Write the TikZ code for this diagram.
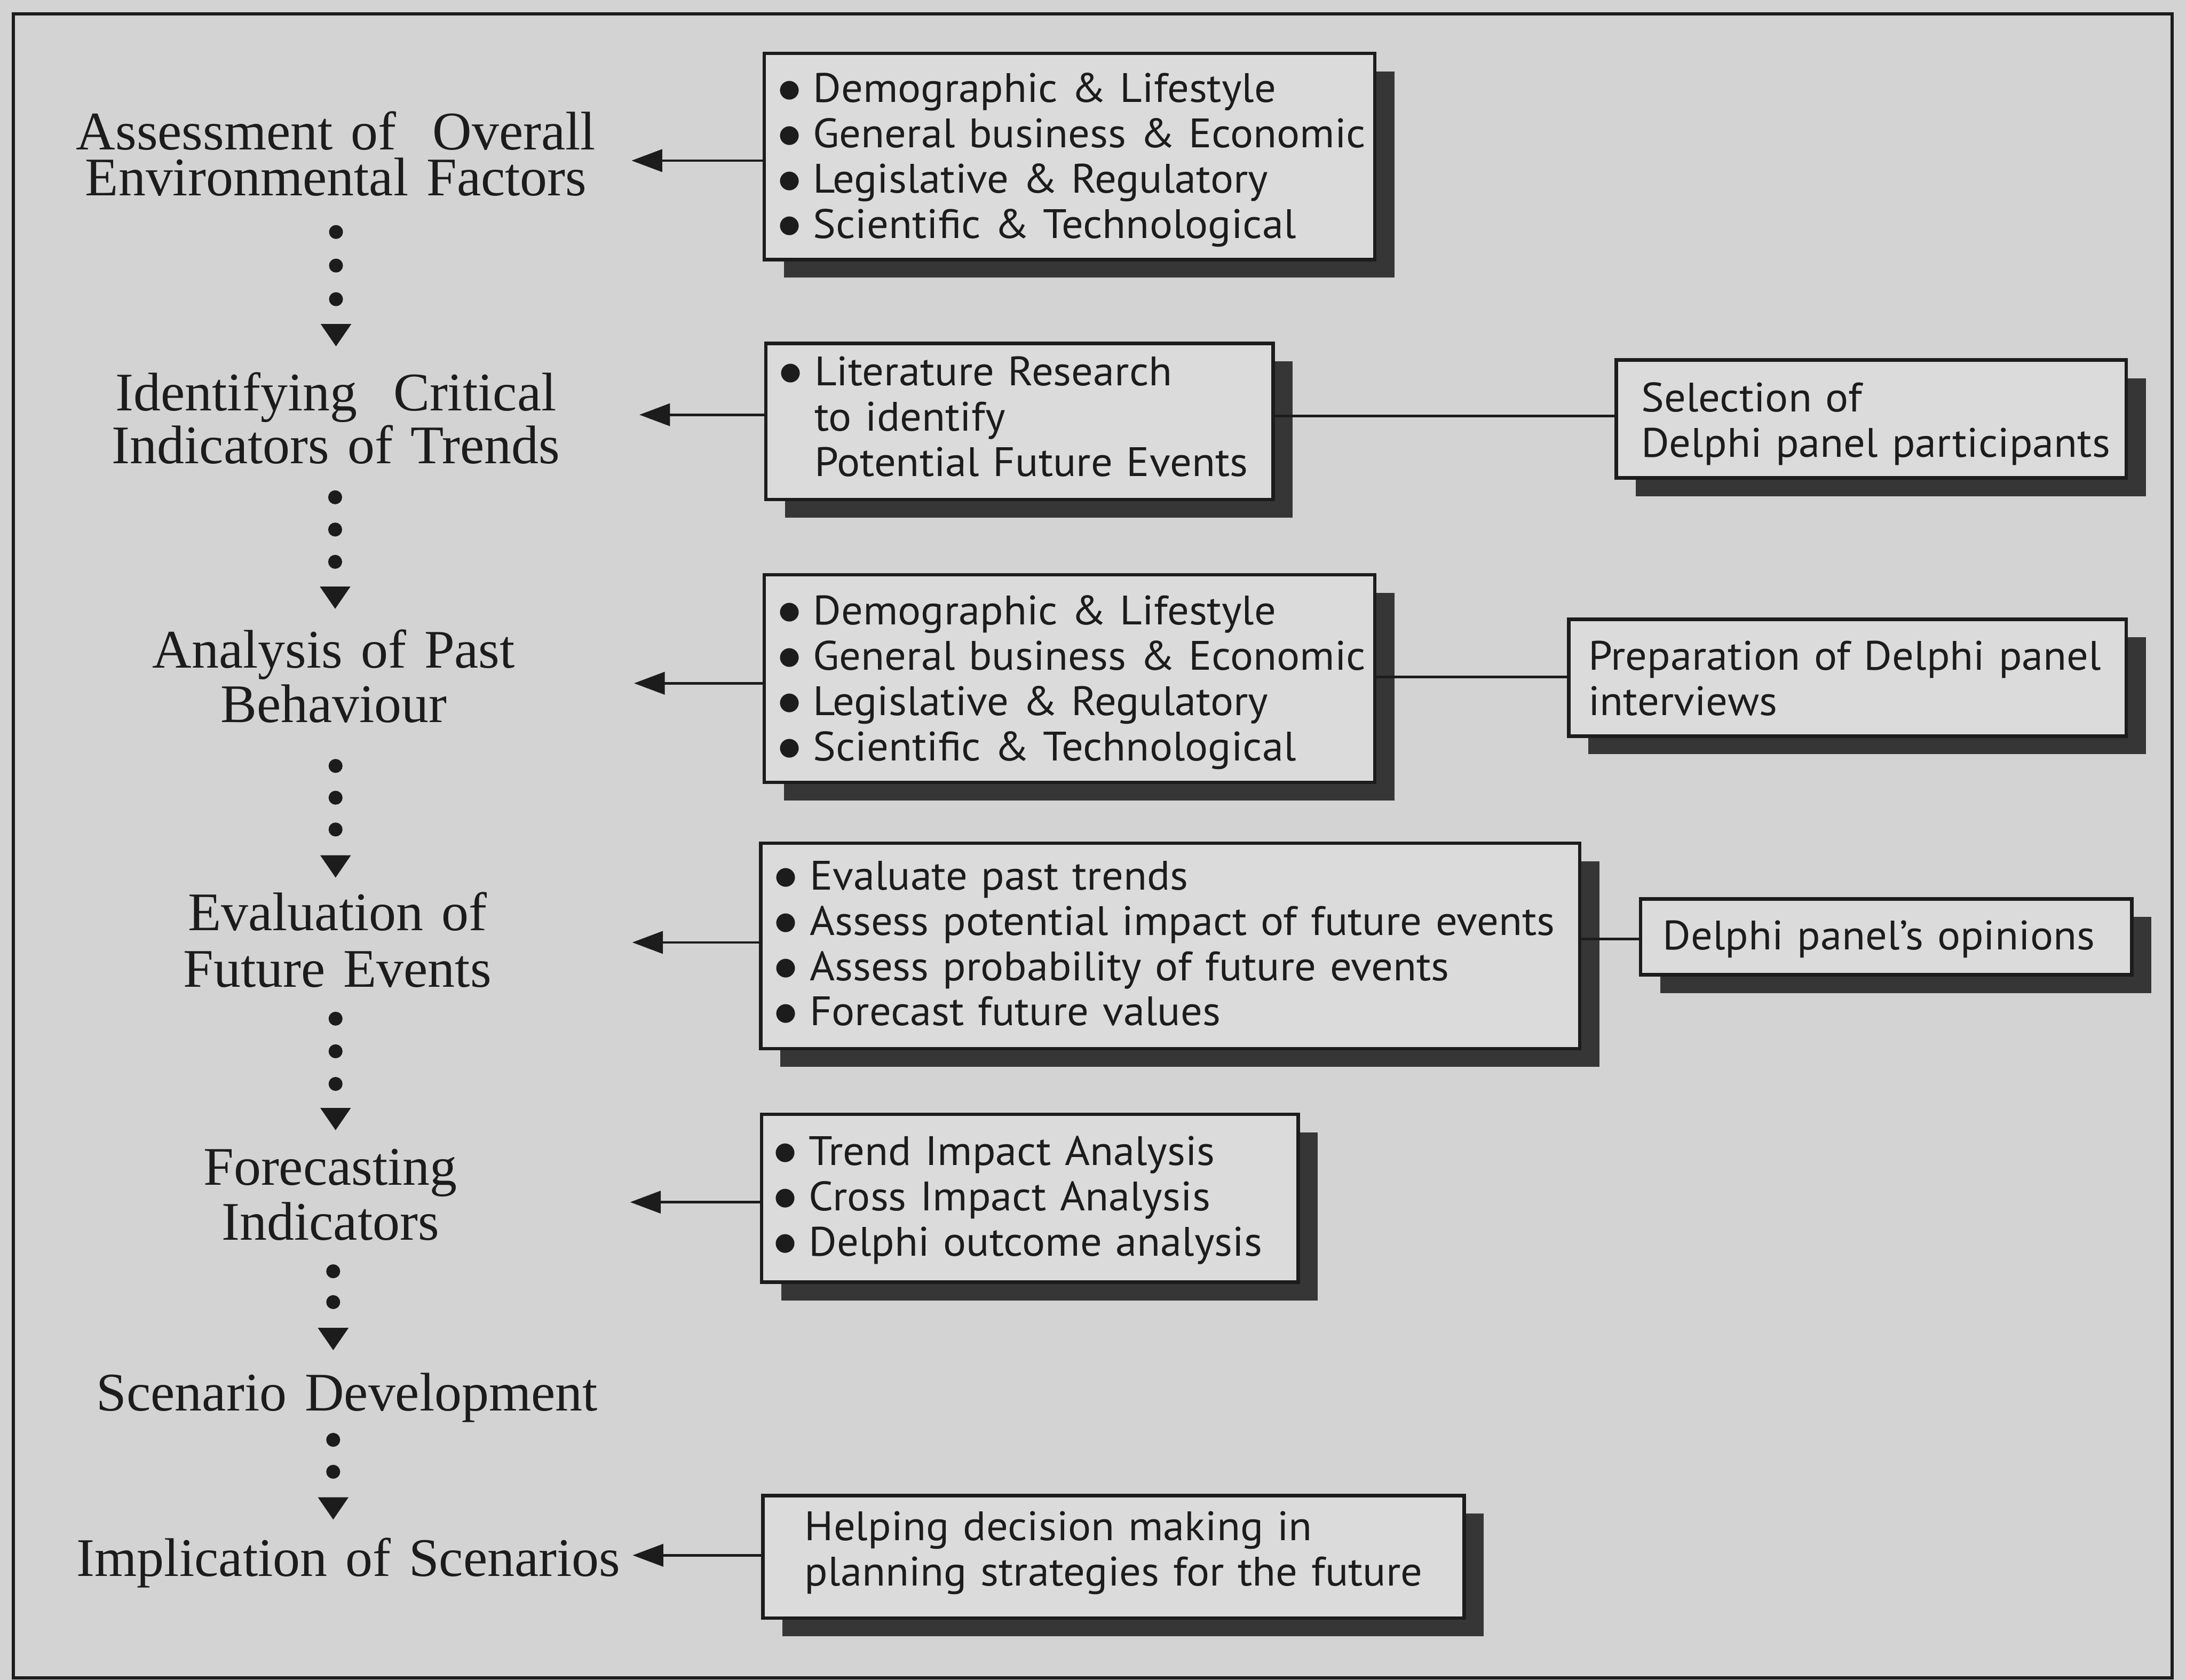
\documentclass[tikz,border=0pt]{standalone}
\usepackage{fontspec}
\setmainfont{Liberation Serif}
\setsansfont{PT Sans}[FakeStretch=1.045]
\newfontfamily\bulfont{DejaVu Sans}
\usetikzlibrary{arrows.meta,shadows}
\definecolor{bgc}{HTML}{D3D3D3}
\definecolor{boxc}{HTML}{DBDBDB}
\definecolor{shc}{HTML}{363636}
\definecolor{ink}{HTML}{1C1C1C}
\newcommand\oneline[1]{\mbox{#1}}
\newcommand\upstrut[1]{\rule{0pt}{#1}}
\newcommand\downstrut{\rule[-0.3cm]{0pt}{0.3cm}}
\newcommand\bul{\makebox[0.32cm][c]{\raisebox{2.3pt}{\bulfont\fontsize{10}{0}\selectfont ●}}\hspace{0.18cm}}
\newcommand\bulgap{\hspace{0.5cm}}
\begin{document}
\begin{tikzpicture}[x=0.02cm,y=-0.02cm,
  stage/.style={font=\fontsize{22.2}{#1}\selectfont,
    align=center, text width=8cm, inner sep=0pt, anchor=base, text=ink},
  stage/.default=0.66cm,
  panel/.style={draw=ink, line width=0.05cm, fill=boxc, anchor=north west,
    inner sep=0pt, align=left, text=ink,
    font=\sffamily\fontsize{16.8}{0.65cm}\selectfont,
    general shadow={shadow xshift=0.28cm, shadow yshift=-0.26cm, fill=shc}},
  feed/.style={draw=ink, line width=0.036cm, -{Triangle[length=0.44cm,width=0.32cm]}},
  link/.style={draw=ink, line width=0.036cm},
  flow/.style={draw=ink, line width=0.2cm, line cap=round, dash pattern=on 0pt off #1,
    -{Triangle[length=0.32cm,width=0.44cm,line width=0pt]}},
]
\useasboundingbox (0,0) rectangle (1568,1205);
\fill[bgc] (0,0) rectangle (1568,1205);
\draw[draw=ink, line width=0.044cm] (9.5,10) rectangle (1558,1203.5);

% stages
\node[stage] (s1) at (241,107.3) {Assessment of\ \ Overall\\Environmental Factors};
\node[stage=0.762cm] (s2) at (241,294.4) {Identifying\ \ Critical\\Indicators of Trends};
\node[stage=0.788cm] (s3) at (239.4,478.9) {Analysis of Past\\Behaviour};
\node[stage=0.806cm] (s4) at (242,667.6) {Evaluation of\\Future Events};
\node[stage=0.786cm] (s5) at (237,850.2) {Forecasting\\Indicators};
\node[stage] (s6) at (249,1012) {Scenario Development};
\node[stage] (s7) at (250,1130.7) {Implication of Scenarios};

% panels
\node[panel, minimum width=8.76cm, minimum height=2.96cm, text width=8.36cm] (b1) at (547,37)
  {\oneline{\upstrut{0.698cm}\bul Demographic \& Lifestyle}\\\oneline{\bul General business \& Economic}\\\oneline{\bul Legislative \& Regulatory}\\\oneline{\bul Scientific \& Technological\downstrut}};
\node[panel, minimum width=7.28cm, minimum height=2.24cm, text width=6.88cm] (b2) at (548,245)
  {\oneline{\upstrut{0.572cm}\bul Literature Research}\\\oneline{\bulgap to identify}\\\oneline{\bulgap Potential Future Events\downstrut}};
\node[panel, minimum width=7.32cm, minimum height=1.64cm, text width=6.60cm] (b2b) at (1158,257)
  {\oneline{\upstrut{0.742cm}Selection of}\\\oneline{Delphi panel participants\downstrut}};
\node[panel, minimum width=8.76cm, minimum height=2.98cm, text width=8.36cm] (b3) at (547,411)
  {\oneline{\upstrut{0.702cm}\bul Demographic \& Lifestyle}\\\oneline{\bul General business \& Economic}\\\oneline{\bul Legislative \& Regulatory}\\\oneline{\bul Scientific \& Technological\downstrut}};
\node[panel, minimum width=8.00cm, minimum height=1.64cm, text width=7.44cm] (b3b) at (1124,443)
  {\oneline{\upstrut{0.726cm}Preparation of Delphi panel}\\\oneline{interviews\downstrut}};
\node[panel, minimum width=11.75cm, minimum height=2.95cm, text width=11.35cm] (b4) at (544.5,603.5)
  {\oneline{\upstrut{0.64cm}\bul Evaluate past trends}\\\oneline{\bul Assess potential impact of future events}\\\oneline{\bul Assess probability of future events}\\\oneline{\bul Forecast future values\downstrut}};
\node[panel, minimum width=7.05cm, minimum height=1.09cm, text width=6.41cm] (b4b) at (1175.5,643.5)
  {\oneline{\upstrut{0.662cm}Delphi panel's opinions\downstrut}};
\node[panel, minimum width=7.70cm, minimum height=2.41cm, text width=7.34cm] (b5) at (545,798)
  {\oneline{\upstrut{0.652cm}\bul Trend Impact Analysis}\\\oneline{\bul Cross Impact Analysis}\\\oneline{\bul Delphi outcome analysis\downstrut}};
\node[panel, minimum width=10.06cm, minimum height=1.76cm, text width=8.86cm] (b7) at (546,1071.5)
  {\oneline{\upstrut{0.48cm}Helping decision making in}\\\oneline{planning strategies for the future\downstrut}};

% arrow tips and link heights
\coordinate (a1) at (453,115.2);
\coordinate (a2) at (458.6,297.5);
\coordinate (a3) at (454.8,490.1);
\coordinate (a4) at (453.5,676);
\coordinate (a5) at (452,862.3);
\coordinate (a7) at (453.8,1115.6);
\coordinate (l2) at (1000,298.5);
\coordinate (l3) at (1000,485.7);
\coordinate (l4) at (1000,673.6);

\draw[feed] (b1.west |- a1) -- (a1);
\draw[feed] (b2.west |- a2) -- (a2);
\draw[feed] (b3.west |- a3) -- (a3);
\draw[feed] (b4.west |- a4) -- (a4);
\draw[feed] (b5.west |- a5) -- (a5);
\draw[feed] (b7.west |- a7) -- (a7);

\draw[link] (b2.east |- l2) -- (b2b.west |- l2);
\draw[link] (b3.east |- l3) -- (b3b.west |- l3);
\draw[link] (b4.east |- l4) -- (b4b.west |- l4);

% dotted flow between stages
\coordinate (g1a) at (241,166.4);   \coordinate (g1b) at (241,248.4);
\coordinate (g2a) at (240.4,356.7); \coordinate (g2b) at (240.4,436.7);
\coordinate (g3a) at (240.7,549.4); \coordinate (g3b) at (240.7,629.5);
\coordinate (g4a) at (240.7,730.7); \coordinate (g4b) at (240.7,810.7);
\coordinate (g5a) at (239,911.9);   \coordinate (g5b) at (239,968.5);
\coordinate (g6a) at (239,1032.8);  \coordinate (g6b) at (239,1090);
\draw[flow=0.482cm] (g1a) -- (g1b);
\draw[flow=0.463cm] (g2a) -- (g2b);
\draw[flow=0.456cm] (g3a) -- (g3b);
\draw[flow=0.468cm] (g4a) -- (g4b);
\draw[flow=0.442cm] (g5a) -- (g5b);
\draw[flow=0.458cm] (g6a) -- (g6b);
\end{tikzpicture}
\end{document}
